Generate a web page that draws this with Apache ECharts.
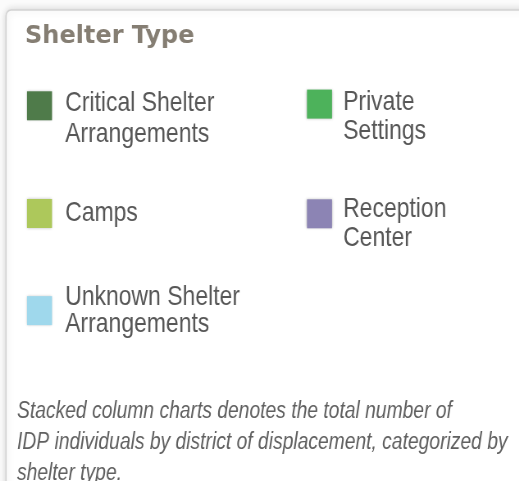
<!DOCTYPE html>
<html><head><meta charset="utf-8">
<script src="https://cdn.jsdelivr.net/npm/echarts@6/dist/echarts.min.js"></script>
<style>
html,body{margin:0;padding:0;background:#fbfbfb;overflow:hidden;}
#wrap{width:519px;height:481px;overflow:hidden;position:relative;}
#c{width:633px;height:481px;transform:scaleX(0.82);transform-origin:0 0;}
</style>
</head><body><div id="wrap"><div id="c"></div></div>
<script>
const titleText = 'Shelter Type';
const shelterTypes = ['Critical Shelter Arrangements', 'Private Settings', 'Camps', 'Reception Center', 'Unknown Shelter Arrangements'];
const legendLines = [['Critical Shelter', 'Arrangements'], ['Private', 'Settings'], ['Camps'], ['Reception', 'Center'], ['Unknown Shelter', 'Arrangements']];
const shelterColors = ['#4f7b4a', '#4db25b', '#adc85b', '#8c84b4', '#9fd8ec'];
const footnote = 'Stacked column charts denotes the total number of\nIDP individuals by district of displacement, categorized by\nshelter type.';

// horizontal squeeze of the canvas (the reference uses a narrow typeface)
const S = 0.82;
const FONT = '"Liberation Sans", Arial, sans-serif';
// [left(screen px), top(screen px), lineHeight, topSpacer, padLeft]
const legendLayout = [
  [27, 73.8, 31, 25.4, 11],
  [307, 74.1, 29, 24.8, 8.5],
  [27, 199, 30, 0, 11],
  [307, 184.3, 28.5, 19.5, 8.5],
  [27, 283.3, 26.7, 0, 11]
];

const chart = echarts.init(document.getElementById('c'), null, {renderer: 'canvas'});
const legends = shelterTypes.map((name, i) => {
  const L = legendLayout[i];
  const body = legendLines[i].map(t => '{t|' + t + '}').join('\n');
  const label = L[3] > 0 ? '{sp| }\n' + body : body;
  return {
    data: [{name: name, icon: 'rect'}],
    left: L[0] / S,
    top: L[1],
    padding: 0,
    itemWidth: 25 / S,
    itemHeight: 29,
    selectedMode: false,
    formatter: () => label,
    itemStyle: {shadowBlur: 3, shadowColor: 'rgba(0,0,0,0.3)'},
    textStyle: {
      fontFamily: FONT, fontSize: 28, color: '#575757',
      padding: [0, 0, 0, L[4]],
      rich: {
        t: {fontFamily: FONT, fontSize: 28, color: '#575757', lineHeight: L[2]},
        sp: {fontSize: 2, lineHeight: L[3]}
      }
    }
  };
});

chart.setOption({
  backgroundColor: 'transparent',
  animation: false,
  graphic: [{
    type: 'rect', z: -10,
    shape: {x: 6 / S, y: 10, width: 700, height: 600, r: 6},
    style: {fill: '#ffffff', stroke: '#d2d2d2', lineWidth: 1.6, shadowBlur: 8, shadowColor: 'rgba(0,0,0,0.16)'}
  }, {
    type: 'text', z: 10,
    x: 25 / S, y: 37, scaleX: 1 / S,
    style: {text: titleText, font: 'bold 24px "DejaVu Sans", sans-serif', fill: '#857e73', verticalAlign: 'middle', align: 'left'}
  }],
  title: [{
    text: footnote, left: 17 / S, top: 396, padding: 0,
    textStyle: {fontFamily: FONT, fontSize: 23.5, fontStyle: 'italic', fontWeight: 'normal', color: '#606060', lineHeight: 31}
  }],
  legend: legends,
  grid: {show: false, left: -100, top: -100, width: 10, height: 10},
  xAxis: {type: 'category', show: false, data: []},
  yAxis: {type: 'value', show: false},
  series: shelterTypes.map((name, i) => ({type: 'bar', stack: 'total', name: name, data: [], itemStyle: {color: shelterColors[i]}}))
});
</script></body></html>
